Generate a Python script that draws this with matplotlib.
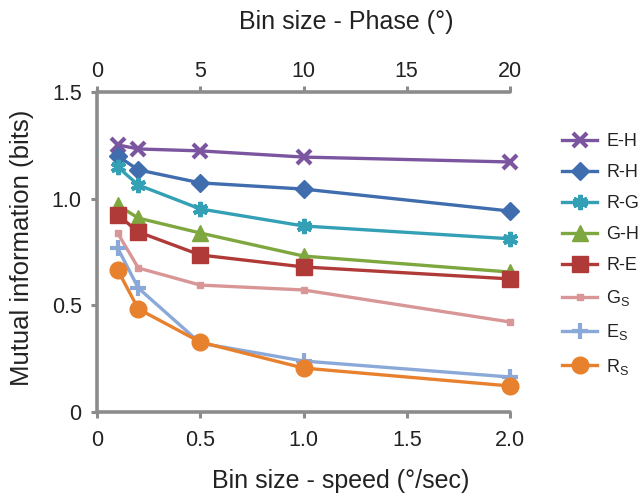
import matplotlib
matplotlib.use("Agg")
import matplotlib.pyplot as plt

plt.rcParams['font.family'] = ['Liberation Sans', 'DejaVu Sans']
plt.rcParams['mathtext.fontset'] = 'custom'
plt.rcParams['mathtext.rm'] = 'Liberation Sans'
plt.rcParams['mathtext.it'] = 'Liberation Sans'

speed_bins = [0.1, 0.2, 0.5, 1.0, 2.0]
labels = ["E-H", "R-H", "R-G", "G-H", "R-E", "G$_\\mathrm{S}$", "E$_\\mathrm{S}$", "R$_\\mathrm{S}$"]
e_h = [1.252, 1.233, 1.224, 1.195, 1.172]
r_h = [1.200, 1.135, 1.074, 1.045, 0.942]
r_g = [1.149, 1.064, 0.952, 0.872, 0.812]
g_h = [0.970, 0.909, 0.839, 0.731, 0.656]
r_e = [0.924, 0.844, 0.736, 0.680, 0.624]
g_s = [0.839, 0.675, 0.595, 0.572, 0.422]
e_s = [0.769, 0.581, 0.323, 0.239, 0.164]
r_s = [0.666, 0.483, 0.328, 0.206, 0.122]
series = [e_h, r_h, r_g, g_h, r_e, g_s, e_s, r_s]
colors = ["#7B559F", "#3F6DAE", "#33A0B6", "#7FA73F", "#B03A38", "#D99696", "#8AA9D8", "#E8812D"]
markers = ["x", "D", (6, 2, 0), "^", "s", "s", "+", "o"]
msizes = [10, 9, 11, 11, 11, 5, 11, 12]
mews = [3, 1, 3, 1, 1, 1, 3, 1]

fig = plt.figure(figsize=(6.39, 4.96), dpi=100)
ax = fig.add_axes([97/639, 1 - 412/496, (510-97)/639, (412-92)/496])

for vals, lab, c, m, ms, mw in zip(series, labels, colors, markers, msizes, mews):
    ax.plot(speed_bins, vals, color=c, lw=2.4, marker=m, ms=ms, mew=mw,
            mec=c, mfc=c, label=lab, clip_on=False, zorder=3)

gray = "#8C8C8C"
ax.set_xlim(0, 2.0)
ax.set_ylim(0, 1.5)
ax.set_xticks([0, 0.5, 1.0, 1.5, 2.0])
ax.set_xticklabels(["0", "0.5", "1.0", "1.5", "2.0"])
ax.set_yticks([0, 0.5, 1.0, 1.5])
ax.set_yticklabels(["0", "0.5", "1.0", "1.5"])
for s in ["right", "top"]:
    ax.spines[s].set_visible(False)
for s in ["left", "bottom"]:
    ax.spines[s].set_color(gray)
    ax.spines[s].set_linewidth(2.6)
    ax.spines[s].set_capstyle('round')
ax.tick_params(axis='x', pad=9)
ax.tick_params(axis='y', pad=7)
ax.tick_params(axis='both', colors=gray, width=2.2, length=4, labelsize=15.5,
               labelcolor="#222222")
ax.set_xlabel("Bin size - speed (°/sec)", fontsize=18, color="#222222")
ax.xaxis.label.set_verticalalignment('center')
ax.xaxis.set_label_coords(0.591, -0.216)
ax.set_ylabel("Mutual information (bits)", fontsize=18.5, color="#222222")
ax.yaxis.label.set_verticalalignment('center')
ax.yaxis.set_label_coords(-0.182, 0.514)

top = ax.secondary_xaxis('top', functions=(lambda x: x * 10, lambda x: x / 10))
top.set_xticks([0, 5, 10, 15, 20])
top.spines['top'].set_color(gray)
top.spines['top'].set_linewidth(2.6)
top.spines['top'].set_capstyle('round')
top.tick_params(colors=gray, width=2.2, length=4, labelsize=15.5, labelcolor="#222222", pad=3)
top.set_xlabel("Bin size - Phase (°)", fontsize=18, color="#222222")
top.xaxis.label.set_verticalalignment('center')
top.xaxis.set_label_coords(0.603, 1.219, transform=ax.transAxes)

leg = fig.legend(loc='upper left', bbox_to_anchor=(562/639, 1 - 133/496),
                 frameon=False, fontsize=13, handlelength=1.95, handletextpad=0.5,
                 labelspacing=0.78, borderpad=0, borderaxespad=0)
for t in leg.get_texts():
    t.set_color("#222222")

fig.savefig("out.png", dpi=100)
